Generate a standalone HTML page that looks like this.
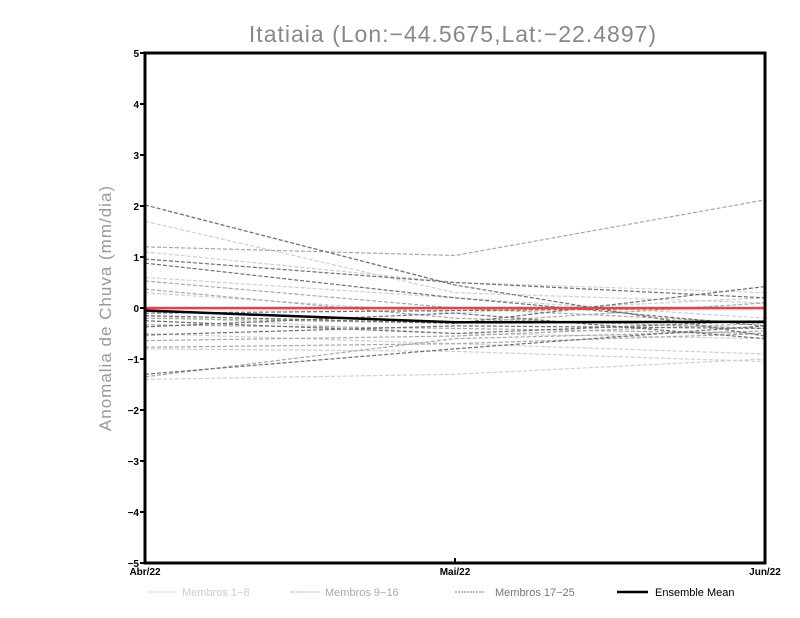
<!DOCTYPE html>
<html><head><meta charset="utf-8"><style>
body{margin:0;background:#fff;width:800px;height:618px;overflow:hidden}
svg{display:block}
text{font-family:"Liberation Sans",sans-serif}
</style></head><body>
<svg id="c" width="800" height="618">
<text x="453" y="42" text-anchor="middle" font-size="23" fill="#888" style="letter-spacing:1px">Itatiaia (Lon:−44.5675,Lat:−22.4897)</text>
<text transform="translate(111,308) rotate(-90)" text-anchor="middle" font-size="17" fill="#999" style="letter-spacing:1px">Anomalia de Chuva (mm/dia)</text>
<g id="marks"></g>
<g id="axes"></g>
<g>
<g><line x1="147" y1="592" x2="176" y2="592" stroke="#ccc" stroke-dasharray="2,1"/><text x="182" y="596" font-size="11" fill="#ccc">Membros 1−8</text></g>
<g><line x1="290" y1="592" x2="319" y2="592" stroke="#aaa" stroke-dasharray="2,1"/><text x="325" y="596" font-size="11" fill="#aaa">Membros 9−16</text></g>
<g><line x1="455" y1="592" x2="485" y2="592" stroke="#777" stroke-dasharray="2,1"/><text x="495" y="596" font-size="11" fill="#777">Membros 17−25</text></g>
<g><line x1="617" y1="592" x2="648" y2="592" stroke="#000" stroke-width="2.5"/><text x="655" y="596" font-size="11" fill="#000">Ensemble Mean</text></g>
</g>
</svg>
<script>
const categories=["Abr/22","Mai/22","Jun/22"];
const yTicks=[-5,-4,-3,-2,-1,0,1,2,3,4,5];
const group1=[[1.7,0.3,0.1],[1.1,0.5,0.3],[0.6,0.2,-0.2],[-0.15,-0.5,-0.6],[-0.5,-0.7,-0.9],[-1.4,-1.3,-1.0],[0.3,-0.1,0.2],[-0.8,-0.85,-1.05]];
const group2=[[1.2,1.03,2.12],[0.53,0.0,-0.3],[0.37,-0.2,-0.4],[-0.33,-0.4,-0.5],[-0.64,-0.55,-0.3],[-1.35,-0.6,-0.45],[-0.2,-0.3,0.1],[-0.77,-0.7,-0.5]];
const group3=[[2.02,0.45,-0.55],[0.96,0.5,0.2],[0.88,0.2,-0.35],[-0.15,-0.3,0.42],[-0.37,-0.1,-0.6],[-0.53,-0.35,-0.4],[-1.3,-0.8,-0.35],[-0.1,-0.05,0.0],[-0.25,-0.5,-0.25]];
const ensembleMean=[-0.05,-0.28,-0.27];
const zeroLine=[0,0,0];
const X0=145,X1=765,Y0=563,Y1=53;
const xs=i=>X0+(X1-X0)*i/(categories.length-1);
const ys=v=>Y0-(v+5)/10*(Y0-Y1);
const NS="http://www.w3.org/2000/svg";
const marks=document.getElementById('marks'),axes=document.getElementById('axes');
function line(parent,vals,color,w,dash,name){
  const p=document.createElementNS(NS,'polyline');
  p.setAttribute('points',vals.map((v,i)=>xs(i)+','+ys(v)).join(' '));
  p.setAttribute('fill','none');p.setAttribute('stroke',color);p.setAttribute('stroke-width',w);
  if(dash)p.setAttribute('stroke-dasharray',dash);
  
  
  parent.appendChild(p);
}
group1.forEach((s,i)=>line(marks,s,'#cfcfcf',1.2,'4,2','member-'+(i+1)));
group2.forEach((s,i)=>line(marks,s,'#a8a8a8',1.2,'4,2','member-'+(i+9)));
group3.forEach((s,i)=>line(marks,s,'#707070',1.2,'4,2','member-'+(i+17)));
line(marks,zeroLine,'#f04040',2.5,null,'zero-line');
line(marks,ensembleMean,'#000',2.5,null,'ensemble-mean-line');
const r=document.createElementNS(NS,'rect');
r.setAttribute('x',X0);r.setAttribute('y',Y1);r.setAttribute('width',X1-X0);r.setAttribute('height',Y0-Y1);
r.setAttribute('fill','none');r.setAttribute('stroke','#000');r.setAttribute('stroke-width','3');


axes.appendChild(r);
yTicks.forEach(t=>{
  const l=document.createElementNS(NS,'line');
  l.setAttribute('x1',X0-5);l.setAttribute('x2',X0);l.setAttribute('y1',ys(t));l.setAttribute('y2',ys(t));
  l.setAttribute('stroke','#000');l.setAttribute('stroke-width','2');
  
  
  axes.appendChild(l);
  const tx=document.createElementNS(NS,'text');
  tx.setAttribute('x',X0-6);tx.setAttribute('y',ys(t)+4);tx.setAttribute('text-anchor','end');
  tx.setAttribute('font-size','10');tx.setAttribute('font-weight','bold');
  tx.textContent=t<0?'−'+(-t):String(t);
  
  
  axes.appendChild(tx);
});
categories.forEach((c,i)=>{
  const l=document.createElementNS(NS,'line');
  l.setAttribute('x1',xs(i));l.setAttribute('x2',xs(i));l.setAttribute('y1',Y0);l.setAttribute('y2',Y0-5);
  l.setAttribute('stroke','#000');l.setAttribute('stroke-width','2');
  
  
  axes.appendChild(l);
  const tx=document.createElementNS(NS,'text');
  tx.setAttribute('x',xs(i));tx.setAttribute('y',Y0+12);tx.setAttribute('text-anchor','middle');
  tx.setAttribute('font-size','10');tx.setAttribute('font-weight','bold');
  tx.textContent=c;
  
  
  axes.appendChild(tx);
});
</script>
</body></html>
